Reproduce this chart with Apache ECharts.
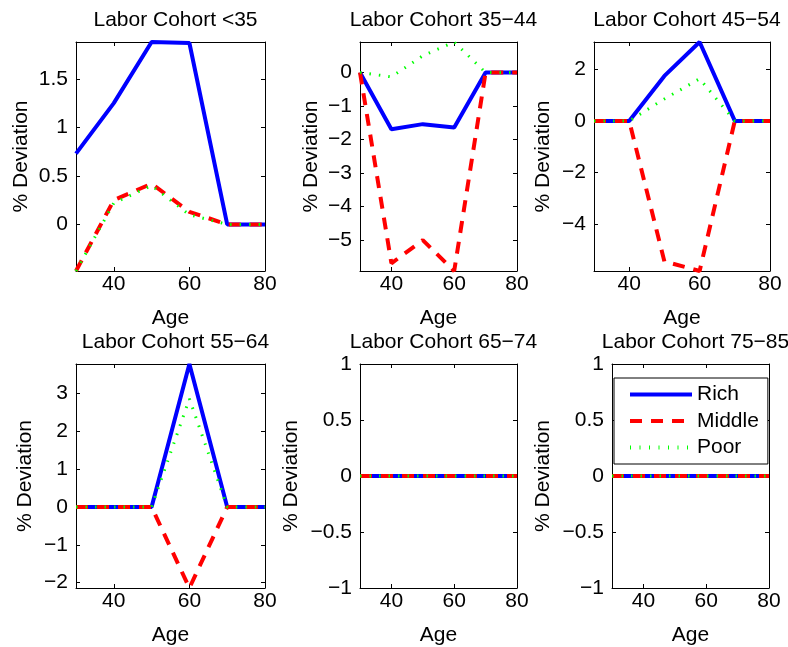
<!DOCTYPE html>
<html><head><meta charset="utf-8">
<script src="https://cdn.jsdelivr.net/npm/echarts@6/dist/echarts.min.js"></script>
<style>html,body{margin:0;padding:0;background:#fff}#c{width:788px;height:647px}</style>
</head><body><div id="c"></div>
<script>
// ---- data ----
const ages = [30, 40, 50, 60, 70, 80];
const titles = ['Labor Cohort <35', 'Labor Cohort 35−44', 'Labor Cohort 45−54',
                'Labor Cohort 55−64', 'Labor Cohort 65−74', 'Labor Cohort 75−85'];
const seriesNames = ['Rich', 'Middle', 'Poor'];

const rich1 = [0.73, 1.25, 1.88, 1.87, 0, 0];
const middle1 = [-0.48, 0.25, 0.42, 0.13, 0, 0];
const poor1 = [-0.48, 0.22, 0.40, 0.10, 0, 0];

const rich2 = [0, -1.69, -1.54, -1.64, 0, 0];
const middle2 = [0, -5.69, -5.0, -5.92, 0, 0];
const poor2 = [0, -0.13, 0.5, 0.91, 0, 0];

const rich3 = [0, 0, 1.74, 3.05, 0, 0];
const middle3 = [0, 0, -5.43, -5.8, 0, 0];
const poor3 = [0, 0, 0.85, 1.63, 0, 0];

const rich4 = [0, 0, 0, 3.78, 0, 0];
const middle4 = [0, 0, 0, -2.14, 0, 0];
const poor4 = [0, 0, 0, 2.86, 0, 0];

const rich5 = [0, 0, 0, 0, 0, 0];
const middle5 = [0, 0, 0, 0, 0, 0];
const poor5 = [0, 0, 0, 0, 0, 0];

const rich6 = [0, 0, 0, 0, 0, 0];
const middle6 = [0, 0, 0, 0, 0, 0];
const poor6 = [0, 0, 0, 0, 0, 0];

const xRange = [30, 80];
const xTicks = [40, 60, 80];
const yRange1 = [-0.48, 1.88], yTicks1 = [0, 0.5, 1, 1.5];
const yRange2 = [-5.92, 0.91], yTicks2 = [-5, -4, -3, -2, -1, 0];
const yRange3 = [-5.8, 3.05], yTicks3 = [-4, -2, 0, 2];
const yRange4 = [-2.14, 3.78], yTicks4 = [-2, -1, 0, 1, 2, 3];
const yRange5 = [-1, 1], yTicks5 = [-1, -0.5, 0, 0.5, 1];
const yRange6 = [-1, 1], yTicks6 = [-1, -0.5, 0, 0.5, 1];

// ---- layout / style ----
const FONT = 'Liberation Sans, Arial, Helvetica, sans-serif';
const FS = 21;
const panels = [
  {grid: {left: 76, top: 42, width: 189, height: 229}, nameGap: 44, rich: rich1, middle: middle1, poor: poor1, yr: yRange1, yt: yTicks1},
  {grid: {left: 360, top: 42, width: 157, height: 229}, nameGap: 38, rich: rich2, middle: middle2, poor: poor2, yr: yRange2, yt: yTicks2},
  {grid: {left: 594, top: 42, width: 176, height: 229}, nameGap: 40, rich: rich3, middle: middle3, poor: poor3, yr: yRange3, yt: yTicks3},
  {grid: {left: 76, top: 364, width: 189, height: 224}, nameGap: 40, rich: rich4, middle: middle4, poor: poor4, yr: yRange4, yt: yTicks4},
  {grid: {left: 360, top: 364, width: 157, height: 224}, nameGap: 58, rich: rich5, middle: middle5, poor: poor5, yr: yRange5, yt: yTicks5},
  {grid: {left: 612, top: 364, width: 157, height: 224}, nameGap: 58, rich: rich6, middle: middle6, poor: poor6, yr: yRange6, yt: yTicks6}
];
const fmt = v => String(v).replace('-', '−');
const lineStyles = {
  Rich: {color: '#0000ff', width: 4, type: 'solid'},
  Middle: {color: '#ff0000', width: 4, type: [12, 9]},
  Poor: {color: '#00ff00', width: 3, type: [1.5, 8]}
};

const grid = [], xAxis = [], yAxis = [], series = [], title = [];
const axisLine = {show: true, onZero: false, lineStyle: {color: '#000', width: 1}};
const txt = {fontSize: FS, color: '#000', fontFamily: FONT};
panels.forEach((p, i) => {
  grid.push(Object.assign({containLabel: false}, p.grid));
  title.push({
    text: titles[i], left: p.grid.left + p.grid.width / 2, top: p.grid.top - 37,
    textAlign: 'center',
    textStyle: Object.assign({fontWeight: 'normal'}, txt)
  });
  xAxis.push({
    type: 'value', gridIndex: i, min: xRange[0], max: xRange[1], position: 'bottom',
    name: 'Age', nameLocation: 'middle', nameGap: 37,
    nameTextStyle: txt,
    axisLine, splitLine: {show: false},
    axisTick: {inside: true, length: 4, customValues: xTicks, lineStyle: {color: '#000'}},
    axisLabel: Object.assign({customValues: xTicks, margin: 3, formatter: fmt}, txt)
  });
  xAxis.push({
    type: 'value', gridIndex: i, min: xRange[0], max: xRange[1], position: 'top',
    axisLine, splitLine: {show: false},
    axisTick: {inside: true, length: 4, customValues: xTicks, lineStyle: {color: '#000'}},
    axisLabel: {show: false}
  });
  yAxis.push({
    type: 'value', gridIndex: i, min: p.yr[0], max: p.yr[1], position: 'left',
    name: '% Deviation', nameLocation: 'middle', nameGap: p.nameGap, nameRotate: 90,
    nameTextStyle: txt,
    axisLine, splitLine: {show: false},
    axisTick: {inside: true, length: 4, customValues: p.yt, lineStyle: {color: '#000'}},
    axisLabel: Object.assign({customValues: p.yt, margin: 8, formatter: fmt}, txt)
  });
  yAxis.push({
    type: 'value', gridIndex: i, min: p.yr[0], max: p.yr[1], position: 'right',
    axisLine, splitLine: {show: false},
    axisTick: {inside: true, length: 4, customValues: p.yt, lineStyle: {color: '#000'}},
    axisLabel: {show: false}
  });
  const vals = {Rich: p.rich, Middle: p.middle, Poor: p.poor};
  seriesNames.forEach((nm, k) => {
    series.push({
      type: 'line', name: nm, xAxisIndex: 2 * i, yAxisIndex: 2 * i,
      data: ages.map((a, j) => [a, vals[nm][j]]),
      symbol: 'none', showSymbol: false, z: 2 + k,
      lineStyle: lineStyles[nm], itemStyle: {color: lineStyles[nm].color},
      emphasis: {disabled: true}
    });
  });
});

const legendData = seriesNames.map(nm => ({
  name: nm,
  itemStyle: {color: 'rgba(0,0,0,0)', borderWidth: 0, opacity: 0},
  lineStyle: {width: nm === 'Poor' ? 4 : lineStyles[nm].width, type: nm === 'Poor' ? [1, 8.5] : lineStyles[nm].type, color: lineStyles[nm].color}
}));

const chart = echarts.init(document.getElementById('c'), null, {renderer: 'canvas'});
chart.setOption({
  animation: false,
  backgroundColor: '#fff',
  title, grid, xAxis, yAxis, series,
  legend: {
    data: legendData, orient: 'vertical', left: 614, top: 378,
    itemWidth: 62, itemHeight: 14, itemGap: 5.5, padding: [6, 9, 6, 14],
    borderColor: '#000', borderWidth: 1, backgroundColor: '#fff',
    selectedMode: false, z: 10,
    itemStyle: {color: 'rgba(0,0,0,0)', borderWidth: 0, opacity: 0},
    textStyle: txt
  }
});
</script></body></html>
